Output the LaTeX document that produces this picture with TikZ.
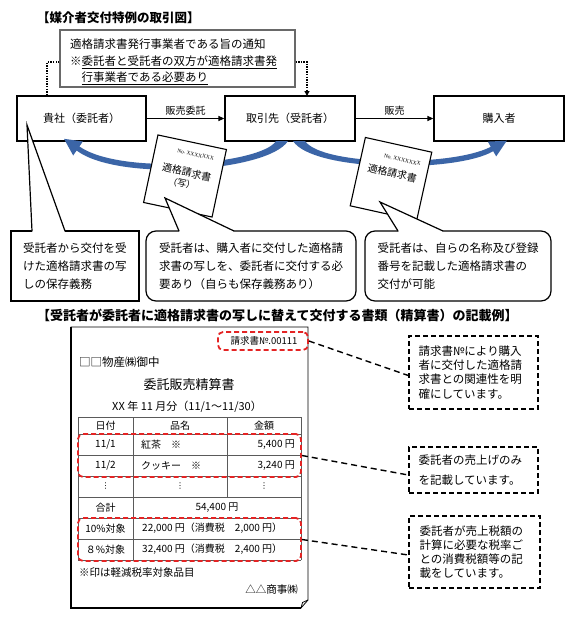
\documentclass[tikz,border=0pt]{standalone}
\usepackage{fontspec}
\setmainfont{Noto Sans CJK JP}
\newfontfamily\serifnum{Liberation Serif}
\newfontfamily\dejavu{DejaVu Sans}
\usetikzlibrary{arrows.meta,calc}
\definecolor{arrowblue}{RGB}{59,101,167}
\definecolor{dashred}{RGB}{228,36,36}
\definecolor{framegray}{RGB}{105,105,105}
\definecolor{tablegray}{RGB}{90,90,90}
\tikzset{
  fsz/.style 2 args={font=\fontsize{#1}{#2}\selectfont},
  bfsz/.style 2 args={font=\fontsize{#1}{#2}\selectfont\bfseries},
  partybox/.style={draw, line width=1.2pt, minimum height=45pt, inner sep=0pt, fsz={11}{13}},
  callbox/.style={draw, fill=white, line width=1.2pt, minimum height=70pt, inner sep=0pt, align=left, fsz={11.5}{18}},
  tailline/.style={line width=1.2pt, line join=miter},
  docbox/.style={draw, fill=white, line width=1.1pt, inner sep=0pt},
  flowarrow/.style={line width=1.2pt, -{Triangle[length=6pt,width=5pt]}},
  dotline/.style={line width=1.3pt, dash pattern=on 1.3pt off 1.3pt},
  reddash/.style={draw=dashred, line width=1.8pt, dash pattern=on 5pt off 3pt, rounded corners=5pt, inner sep=0pt},
  notebox/.style={draw, line width=1.4pt, dash pattern=on 5pt off 3pt, inner ysep=0pt, align=left, fsz={11.5}{14.2}},
  connline/.style={line width=1.4pt, dash pattern=on 6pt off 4pt},
  tcell/.style={inner sep=0pt, fsz={10}{12}},
  vdot/.style={inner sep=0pt, font=\dejavu\fontsize{8}{9}\selectfont},
  tline/.style={draw=tablegray, line width=0.7pt},
  txt/.style={inner sep=0pt}
}
\begin{document}
\begin{tikzpicture}[x=1pt,y=-1pt]
\useasboundingbox (0,0) rectangle (580,621);
\fill[white] (0,0) rectangle (580,621);

% ---------- titles ----------
\node[txt, anchor=west, bfsz={12.5}{14}] (title1) at (37,18) {【媒介者交付特例の取引図】};

% ---------- notice box ----------
\node[draw=framegray, line width=1.2pt, minimum width=235pt, minimum height=57pt, inner sep=0pt] (n) at (177.5,58.5) {};
\node[txt, anchor=base west, fsz={11.5}{14}] (nl1) at (70,48.4) {適格請求書発行事業者である旨の通知};
\node[txt, anchor=base west, fsz={11.5}{14}] (nl2) at (70,65.4) {※\underline{委託者と受託者の双方が適格請求書発}};
\node[txt, anchor=base west, fsz={11.5}{14}] (nl3) at (81.5,81.4) {\underline{行事業者である必要あり}};

% ---------- parties ----------
\node[partybox, minimum width=129pt] (k) at (81.5,118.5) {貴社（委託者）};
\node[partybox, minimum width=130pt] (t) at (290,118.5) {取引先（受託者）};
\node[partybox, minimum width=130pt] (b) at (499,118.5) {購入者};

\coordinate (d1) at (47,96);
\coordinate (d2) at (307,96);
\draw[dotline] ([yshift=-3.5pt]n.west) -| (d1);
\draw[dotline, -{Triangle[length=5pt,width=5pt]}] ([yshift=-3.5pt]n.east) -| (d2);

\draw[flowarrow] (k.east) -- node[midway, above=3pt, txt, fsz={10}{12}] (l1) {販売委託} (t.west);
\draw[flowarrow] (t.east) -- node[midway, above=3pt, txt, fsz={10}{12}] (l2) {販売} (b.west);

% ---------- blue curved arrows ----------
\fill[arrowblue] (276,141) .. controls (262,164) and (122,176) .. (79.4,146.5)
  -- (82.8,141.5) -- (64,138.8) -- (73.2,155.5) -- (76.6,150.5)
  .. controls (118,182) and (268,172) .. (288,141) -- cycle;
\fill[arrowblue] (305,141) .. controls (322,166) and (452,167) .. (490.8,146.8)
  -- (487.8,141.6) -- (506.8,140.7) -- (496.2,156.4) -- (493.2,151.2)
  .. controls (456,173) and (313,172) .. (293,141) -- cycle;

% ---------- documents ----------
\begin{scope}[shift={(185,176)}, rotate=-12, transform shape]
  \node[docbox, minimum width=70pt, minimum height=69pt] (doc1) at (0,0) {};
  \node[txt, font=\serifnum\fontsize{5.5}{6}\selectfont] (doc1no) at (6,-23) {No.\ XXXXXXX};
  \node[txt, fsz={10}{12}] (doc1t) at (1,-4) {適格請求書};
  \node[txt, fsz={9}{11}] (doc1c) at (-1.5,8) {（写）};
\end{scope}
\begin{scope}[shift={(391,179)}, rotate=-12.5, transform shape]
  \node[docbox, minimum width=68pt, minimum height=70pt] (doc2) at (0,0) {};
  \node[txt, font=\serifnum\fontsize{5.5}{6}\selectfont] (doc2no) at (7,-21) {No.\ XXXXXXX};
  \node[txt, fsz={10}{12}] (doc2t) at (0,-6) {適格請求書};
\end{scope}

% ---------- callouts ----------
\node[callbox, minimum width=128pt] (c1) at (75,266) {受託者から交付を受\\けた適格請求書の写\\しの保存義務};
\fill[white] (32,231) -- (27,125) -- (65,231) -- (64,232) -- (33,232) -- cycle;
\draw[tailline] (32,231) -- (27,125) -- (65,231);

\node[callbox, rounded corners=10pt, minimum width=210pt] (c2) at (251,266) {受託者は、購入者に交付した適格請\\求書の写しを、委託者に交付する必\\要あり（自らも保存義務あり）};
\fill[white] (179,231) -- (165,198) -- (234,231) -- (233,232) -- (180,232) -- cycle;
\draw[tailline] (179,231) -- (165,198) -- (234,231);

\node[callbox, rounded corners=10pt, minimum width=186pt] (c3) at (458,266) {受託者は、自らの名称及び登録\\番号を記載した適格請求書の\\交付が可能};
\fill[white] (398,231) -- (380,202) -- (443,231) -- (442,232) -- (399,232) -- cycle;
\draw[tailline] (398,231) -- (380,202) -- (443,231);

% ---------- lower section ----------
\node[txt, anchor=west, bfsz={13}{15}] (title2) at (37,315) {【受託者が委託者に適格請求書の写しに替えて交付する書類（精算書）の記載例】};

% paper
\draw[line width=0.8pt, fill=white] (71,327) -- (308,327) -- (308,600) -- (301,608) -- (71,608) -- cycle;
\draw[line width=1.8pt] (71,327) -- (71,608) -- (301,608);
\draw[line width=0.8pt] (308,600) -- (302.5,602.5) -- (301,608);

\node[reddash, minimum width=90pt, minimum height=18pt] (r1) at (263,341) {};
\node[txt, fsz={9.5}{11}] (invno) at (264,341) {請求書№.00111};
\node[txt, anchor=west, fsz={11.5}{13}] (addr) at (79,362) {□□物産㈱御中};
\node[txt, fsz={13}{15}] (doctitle) at (189,385) {委託販売精算書};
\node[txt, fsz={11}{13}] (period) at (187,407) {XX 年 11 月分（11/1～11/30）};

% table
\foreach \yy in {417,434,455,476,497,518,539,560} \draw[tline] (78,\yy) -- (301,\yy);
\draw[tline] (78,417) -- (78,560);
\draw[tline] (301,417) -- (301,560);
\draw[tline] (133,417) -- (133,560);
\draw[tline] (227,417) -- (227,497);

\node[tcell] (h1) at (105.5,425.5) {日付};
\node[tcell] (h2) at (180,425.5) {品名};
\node[tcell] (h3) at (264,425.5) {金額};
\node[tcell] (a1) at (105.5,444.5) {11/1};
\node[tcell, anchor=west] (a2) at (141,444.5) {紅茶　※};
\node[tcell, anchor=east] (a3) at (295,444.5) {5,400 円};
\node[tcell] (b1) at (105.5,465.5) {11/2};
\node[tcell, anchor=west] (b2) at (141,465.5) {クッキー　※};
\node[tcell, anchor=east] (b3) at (295,465.5) {3,240 円};
\node[vdot] (e1) at (105.5,486.5) {⋮};
\node[vdot] (e2) at (180,486.5) {⋮};
\node[vdot] (e3) at (264,486.5) {⋮};
\node[tcell] (s1) at (105.5,507.5) {合計};
\node[tcell] (s2) at (217,507.5) {54,400 円};
\node[tcell] (p1) at (105.5,528.5) {10\%対象};
\node[tcell, anchor=west] (p2) at (142,528.5) {22,000 円（消費税　2,000 円）};
\node[tcell] (q1) at (105.5,549.5) {８\%対象};
\node[tcell, anchor=west] (q2) at (142,549.5) {32,400 円（消費税　2,400 円）};

\node[reddash, minimum width=223pt, minimum height=43pt] (r2) at (189.5,455.5) {};
\node[reddash, minimum width=223pt, minimum height=43pt] (r3) at (189.5,539.5) {};

\node[txt, anchor=west, fsz={10.5}{12}] (note) at (79,572) {※印は軽減税率対象品目};
\node[txt, anchor=east, fsz={10.5}{12}] (seller) at (298,590) {△△商事㈱};

% explanation boxes
\node[notebox, minimum width=129pt, minimum height=73pt, text width=110pt, inner xsep=9.5pt] (nA) at (473.5,372.5) {請求書№により購入\\者に交付した適格請\\求書との関連性を明\\確にしています。};
\node[notebox, minimum width=129pt, minimum height=46pt, text width=110pt, inner xsep=9.5pt, fsz={11.5}{20}] (nB) at (473.5,470) {委託者の売上げのみ\\を記載しています。};
\node[notebox, minimum width=131pt, minimum height=72pt, text width=110pt, inner xsep=10.5pt] (nC) at (474.5,552) {委託者が売上税額の\\計算に必要な税率ご\\との消費税額等の記\\載をしています。};

\draw[connline] (r1.east) -- ([yshift=-3pt]nA.west);
\draw[connline] (r2.east) -- ([yshift=-5pt]nB.west);
\draw[connline] (r3.east) -- ([yshift=-3pt]nC.west);
\end{tikzpicture}
\end{document}
